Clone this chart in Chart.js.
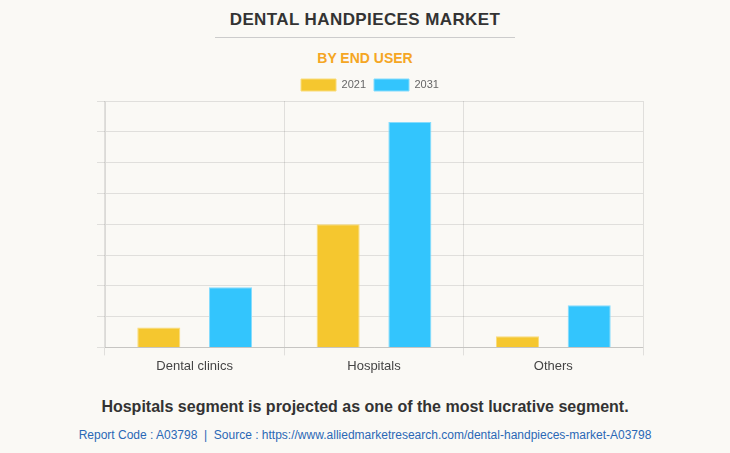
<!DOCTYPE html>
<html lang="en">
<head>
    <meta charset="UTF-8">
    <title>Dental Handpieces Market</title>
    <script src="https://cdn.jsdelivr.net/npm/chart.js"></script>
    <style>
        body { margin: 0; background: #faf9f5; font-family: "Liberation Sans", Arial, sans-serif; }
        #page { position: relative; width: 730px; height: 453px; overflow: hidden; }
        .txt { position: absolute; left: 0; width: 730px; text-align: center; }
    </style>
    <script>
        const categories = ['Dental clinics', 'Hospitals', 'Others'];
        const years = ['2021', '2031'];
        const values2021 = [65, 400, 36];
        const values2031 = [195, 732, 137];
    </script>
</head>
<body>
<div id="page">
    <div class="txt" style="top:10px; font-size:17px; font-weight:bold; color:#333; letter-spacing:0.4px;">DENTAL HANDPIECES MARKET</div>
    <div style="position:absolute; left:215px; top:37px; width:300px; height:1px; background:#ccc;"></div>
    <div class="txt" style="top:50px; font-size:14px; font-weight:bold; color:#f5a623;">BY END USER</div>
    <div style="position:absolute; left:0; top:71px; width:730px; height:319px;">
        <canvas id="Chart"></canvas>
    </div>
    <div class="txt" style="top:398px; font-size:16px; font-weight:bold; color:#333;">Hospitals segment is projected as one of the most lucrative segment.</div>
    <div class="txt" style="top:428px; font-size:12px; color:#2a68b5;">Report Code : A03798&nbsp; |&nbsp; Source : https://www.alliedmarketresearch.com/dental-handpieces-market-A03798</div>
</div>
<script>
    const ctx = document.getElementById('Chart').getContext('2d');
    new Chart(ctx, {
        type: 'bar',
        data: {
            labels: categories,
            datasets: [{
                label: years[0],
                data: values2021,
                backgroundColor: '#f5c72f',
                borderColor: '#f9dc7a',
                borderWidth: 1,
                barPercentage: 0.6,
                categoryPercentage: 0.8
            }, {
                label: years[1],
                data: values2031,
                backgroundColor: '#33c5fd',
                borderColor: '#85dcfd',
                borderWidth: 1,
                barPercentage: 0.6,
                categoryPercentage: 0.8
            }]
        },
        options: {
            responsive: true,
            maintainAspectRatio: false,
            animation: false,
            layout: { padding: { left: 97, right: 87, top: 0, bottom: 13 } },
            plugins: {
                legend: {
                    position: 'top',
                    labels: {
                        boxWidth: 35,
                        boxHeight: 12,
                        padding: 8,
                        color: '#666',
                        font: { family: 'Liberation Sans', size: 11 }
                    }
                },
                tooltip: { enabled: false }
            },
            scales: {
                x: {
                    grid: { color: 'rgba(0,0,0,0.1)', tickLength: 8 },
                    border: { color: 'rgba(0,0,0,0.12)' },
                    ticks: { color: '#444', font: { family: 'Liberation Sans', size: 13 } }
                },
                y: {
                    min: 0,
                    max: 800,
                    ticks: { stepSize: 100, display: false },
                    grid: { color: 'rgba(0,0,0,0.1)', tickLength: 8 },
                    border: { color: 'rgba(0,0,0,0.12)' }
                }
            }
        }
    });
</script>
</body>
</html>
